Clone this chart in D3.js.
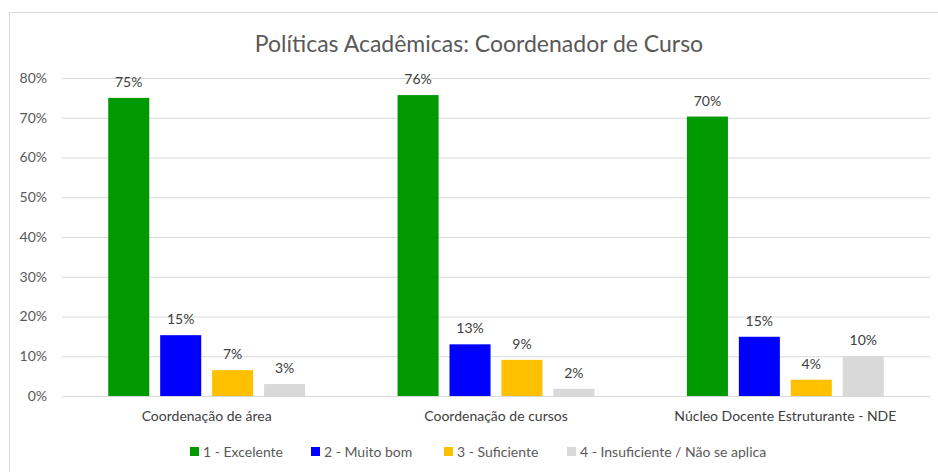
<!DOCTYPE html>
<html>
<head>
<meta charset="utf-8">
<title>Políticas Acadêmicas</title>
<style>
  body, html { margin: 0; padding: 0; background: #fff; }
  svg text { font-family: Lato, "Open Sans", sans-serif; }
</style>
</head>
<body>
<svg id="svg" width="938" height="472"></svg>
<script src="https://d3js.org/d3.v7.min.js"></script>
<script>
// data
const categories = ['Coordenação de área', 'Coordenação de cursos', 'Núcleo Docente Estruturante - NDE']
const seriesNames = ['1 - Excelente', '2 - Muito bom', '3 - Suficiente', '4 - Insuficiente / Não se aplica']
const excelente = [0.75, 0.757, 0.703]
const muitoBom = [0.153, 0.13, 0.149]
const suficiente = [0.065, 0.091, 0.041]
const insuficiente = [0.03, 0.018, 0.10]
const yTicks = [0, 0.1, 0.2, 0.3, 0.4, 0.5, 0.6, 0.7, 0.8]
const colors = ['#009900', '#0000ff', '#ffc000', '#d9d9d9']

const seriesValues = [excelente, muitoBom, suficiente, insuficiente]

const margin = { top: 78, right: 8, bottom: 76, left: 62 }
const W = 938, H = 472
const svg = d3.select('#svg')

// chart border
svg.append('rect')
  .attr('x', 9.5).attr('y', 12.5)
  .attr('width', 940).attr('height', 470)
  .attr('fill', '#fff').attr('stroke', '#d9d9d9')

const x0 = d3.scaleBand()
  .domain(categories)
  .range([margin.left, W - margin.right])
  .padding(0)

const x1 = d3.scaleBand()
  .domain(seriesNames)
  .range([0, x0.bandwidth()])
  .paddingInner(0.21)
  .paddingOuter(0.89)

const y = d3.scaleLinear()
  .domain([0, 0.8])
  .range([H - margin.bottom - 0, margin.top])

// gridlines + y labels
const yAxis = d3.axisLeft(y)
  .tickValues(yTicks)
  .tickFormat(d3.format('.0%'))
  .tickSize(-(W - margin.left - margin.right))
  .tickPadding(15)
svg.append('g')
  .attr('transform', `translate(${margin.left},0)`)
  .call(yAxis)
  .call(g => g.select('.domain').remove())
  .call(g => g.selectAll('line').attr('stroke', '#d9d9d9').attr('stroke-width', 1))
  .call(g => g.selectAll('text').attr('fill', '#595959').style('font-size', '14px'))

// bars
const groups = svg.append('g').selectAll('g')
  .data(categories)
  .join('g')
  .attr('transform', d => `translate(${x0(d)},0)`)

const barData = (c, i) => seriesNames.map((s, j) => ({ s, j, v: seriesValues[j][i] }))

groups.selectAll('rect')
  .data(barData)
  .join('rect')
  .attr('x', d => x1(d.s))
  .attr('y', d => y(d.v))
  .attr('width', x1.bandwidth())
  .attr('height', d => y(0) - y(d.v))
  .attr('fill', d => colors[d.j])

groups.selectAll('text')
  .data(barData)
  .join('text')
  .attr('x', d => x1(d.s) + x1.bandwidth() / 2)
  .attr('y', d => y(d.v) - 11)
  .attr('text-anchor', 'middle')
  .attr('fill', '#404040')
  .style('font-size', '14px')
  .text(d => d3.format('.0%')(d.v))

// x axis
const xAxis = d3.axisBottom(x0).tickSize(0).tickPadding(15)
svg.append('g')
  .attr('transform', `translate(0,${y(0)})`)
  .call(xAxis)
  .call(g => g.select('.domain').attr('stroke', '#d9d9d9'))
  .call(g => g.selectAll('text').attr('fill', '#404040').style('font-size', '14px'))

// title
svg.append('text')
  .attr('x', 479).attr('y', 52)
  .attr('text-anchor', 'middle')
  .attr('fill', '#595959')
  .style('font-size', '23px')
  .text('Políticas Acadêmicas: Coordenador de Curso')

// legend
const legendX = [190, 311, 444, 567]
const legend = svg.append('g').selectAll('g')
  .data(seriesNames)
  .join('g')
  .attr('transform', (d, i) => `translate(${legendX[i]},452)`)
legend.append('rect')
  .attr('x', 0).attr('y', -5)
  .attr('width', 9).attr('height', 9)
  .attr('fill', (d, i) => colors[i])
legend.append('text')
  .attr('x', 13).attr('y', 0)
  .attr('dy', '0.35em')
  .attr('fill', '#595959')
  .style('font-size', '14px')
  .text(d => d)
</script>
</body>
</html>
